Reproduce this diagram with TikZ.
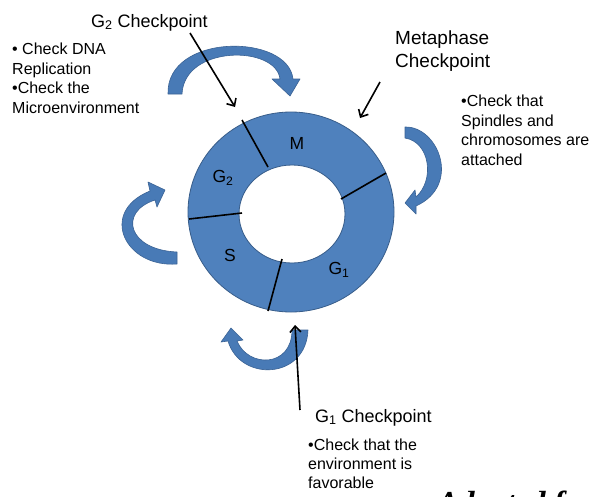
\documentclass[tikz,border=0pt]{standalone}
\usepackage{fontspec}
\setmainfont{Liberation Sans}
\newfontfamily\srf{Liberation Serif}
\usetikzlibrary{arrows.meta}
\definecolor{ringblue}{RGB}{79,129,189}
\definecolor{ringedge}{RGB}{56,93,138}
\definecolor{arrblue}{RGB}{72,122,182}
\definecolor{arredge}{RGB}{58,98,148}
\begin{document}
\begin{tikzpicture}[x=1pt,y=-1pt,
  ptr/.style={line width=1.6pt,-{Straight Barb[length=6pt,width=11pt]}},
  cyc/.style={fill=arrblue,draw=arredge,line width=0.6pt,line join=round},
  divider/.style={line width=1.6pt},
  phase/.style={font=\fontsize{17.5}{20}\selectfont,inner sep=0pt},
  title/.style={font=\fontsize{18}{22}\selectfont,inner sep=0pt,anchor=base west},
  bullets/.style={font=\fontsize{16}{19.5}\selectfont,inner sep=0pt,align=left,anchor=north west}]
\useasboundingbox (0,0) rectangle (593,496);
\fill[white] (0,0) rectangle (593,496);

% ring
\path[fill=ringblue,draw=ringedge,line width=0.8pt,even odd rule]
  (291,212) ellipse [x radius=103,y radius=100]
  (292,214) ellipse [x radius=53,y radius=49];
\draw[divider] (242,120) -- (268,167);
\draw[divider] (386,173) -- (341,199);
\draw[divider] (282,259) -- (268,311);
\draw[divider] (189,219) -- (242,213);

% phase labels
\node[phase] (pM)  at (297,143) {M};
\node[phase] (pG2) at (223,178) {G\textsubscript{2}};
\node[phase] (pS)  at (230,255) {S};
\node[phase] (pG1) at (339,270) {G\textsubscript{1}};

% curved block arrows
\path[cyc] (168,94) .. controls (166,33) and (288,33) .. (293,79)
  -- (300,79) -- (290,96) -- (272,79) -- (280,79)
  .. controls (276,45) and (184,45) .. (182,94) -- cycle;
\path[cyc] (405,127) .. controls (438,126) and (462,185) .. (416,206)
  -- (416,214) -- (405,203) -- (415,190) -- (416,197)
  .. controls (435,180) and (430,142) .. (405,138) -- cycle;
\path[cyc] (177,264) .. controls (125,268) and (98,212) .. (150,191)
  -- (148,182) -- (165,190) -- (157,207) -- (155,200)
  .. controls (118,212) and (128,250) .. (177,252) -- cycle;
\path[cyc] (308,330) .. controls (306,380) and (240,382) .. (228,341)
  -- (221,342) -- (231,328) -- (243,340) -- (237,341)
  .. controls (248,368) and (292,368) .. (292,330) -- cycle;

% texts
\node[title] (g2cp) at (91,27) {G\textsubscript{2} Checkpoint};
\node[bullets] (g2txt) at (12,43) {•\ Check DNA\\Replication\\•Check the\\Microenvironment};
\node[font=\fontsize{19}{23}\selectfont,inner sep=0pt,align=left,anchor=north west] (mcp) at (395,31) {Metaphase\\Checkpoint};
\node[bullets] (mtxt) at (461,95) {•Check that\\Spindles and\\chromosomes are\\attached};
\node[title] (g1cp) at (315,422) {G\textsubscript{1} Checkpoint};
\node[bullets,font=\fontsize{16}{19}\selectfont] (g1txt) at (308,439) {•Check that the\\environment is\\favorable};
\node[font=\srf\bfseries\itshape\fontsize{32}{36}\selectfont,inner sep=0pt,anchor=base west] (adapt) at (437,513) {Adapted from};

% checkpoint pointers
\coordinate (a1s) at (190,33);
\coordinate (a1e) at (235,107);
\coordinate (a2s) at (380,82);
\coordinate (a2e) at (360,118);
\coordinate (a3s) at (300,410);
\coordinate (a3e) at (295,325);
\draw[ptr] (a1s) -- (a1e);
\draw[ptr] (a2s) -- (a2e);
\draw[ptr] (a3s) -- (a3e);
\end{tikzpicture}
\end{document}
